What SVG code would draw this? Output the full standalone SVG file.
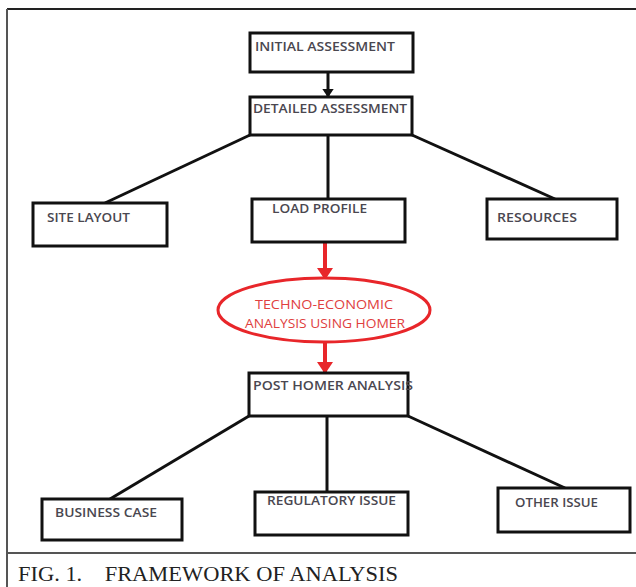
<svg xmlns="http://www.w3.org/2000/svg" width="636" height="587" viewBox="0 0 636 587">
<style>
.box{fill:#fff;stroke:#111;stroke-width:3}
.lbl{font-family:"Open Sans","Liberation Sans",sans-serif;font-weight:600;font-size:13px;fill:#4a4750}
.rl{font-family:"Open Sans","Liberation Sans",sans-serif;font-size:13.5px;fill:#e0403e}
.ln{stroke:#111;stroke-width:3;fill:none}
.rd{stroke:#e8262a;stroke-width:4;fill:none}
</style>
<defs>
<marker id="ab" markerWidth="4" markerHeight="4" refX="2.5" refY="2" orient="auto" markerUnits="strokeWidth"><path d="M0,0 L3,2 L0,4 Z" fill="#111"/></marker>
<marker id="ar" markerWidth="4" markerHeight="4" refX="2.5" refY="2" orient="auto" markerUnits="strokeWidth"><path d="M0,0 L3,2 L0,4 Z" fill="#e8262a"/></marker>
</defs>
<rect width="636" height="587" fill="#fff"/>
<g id="frame">
<line x1="7" y1="9" x2="636" y2="9" stroke="#222" stroke-width="2"/>
<line x1="7" y1="9" x2="7" y2="587" stroke="#555" stroke-width="2"/>
<line x1="7" y1="553" x2="636" y2="553" stroke="#555" stroke-width="2"/>
</g>
<g id="connectors">
<line class="ln" x1="328" y1="72" x2="328" y2="96" stroke-width="5" marker-end="url(#ab)"/>
<line class="ln" x1="250" y1="135" x2="105" y2="203"/>
<line class="ln" x1="328" y1="135" x2="328" y2="199"/>
<line class="ln" x1="412" y1="135" x2="555" y2="199"/>
<line class="rd" x1="325" y1="242" x2="325" y2="278" marker-end="url(#ar)"/>
<line class="rd" x1="325" y1="342" x2="325" y2="372" marker-end="url(#ar)"/>
<line class="ln" x1="249" y1="416" x2="110" y2="499"/>
<line class="ln" x1="327" y1="416" x2="327" y2="492"/>
<line class="ln" x1="408" y1="416" x2="565" y2="488"/>
</g>
<g id="initial"><rect class="box" x="250" y="33" width="163" height="39"/><text class="lbl" x="255" y="51" textLength="140" lengthAdjust="spacingAndGlyphs">INITIAL ASSESSMENT</text></g>
<g id="detailed"><rect class="box" x="250" y="97" width="162" height="38"/><text class="lbl" x="253" y="113" textLength="154" lengthAdjust="spacingAndGlyphs">DETAILED ASSESSMENT</text></g>
<g id="site"><rect class="box" x="33" y="203" width="134" height="43"/><text class="lbl" x="47" y="222" textLength="83" lengthAdjust="spacingAndGlyphs">SITE LAYOUT</text></g>
<g id="load"><rect class="box" x="252" y="199" width="153" height="43"/><text class="lbl" x="272" y="213" textLength="95" lengthAdjust="spacingAndGlyphs">LOAD PROFILE</text></g>
<g id="resources"><rect class="box" x="487" y="199" width="130" height="40"/><text class="lbl" x="497" y="222" textLength="80" lengthAdjust="spacingAndGlyphs">RESOURCES</text></g>
<g id="homer"><ellipse cx="324" cy="310" rx="106" ry="32" fill="#fff" stroke="#e8262a" stroke-width="3"/><text class="rl" x="255" y="309" textLength="138" lengthAdjust="spacingAndGlyphs">TECHNO-ECONOMIC</text><text class="rl" x="245" y="328" textLength="160" lengthAdjust="spacingAndGlyphs">ANALYSIS USING HOMER</text></g>
<g id="post"><rect class="box" x="249" y="373" width="159" height="43"/><text class="lbl" x="253" y="390" textLength="160" lengthAdjust="spacingAndGlyphs">POST HOMER ANALYSIS</text></g>
<g id="business"><rect class="box" x="42" y="499" width="140" height="41"/><text class="lbl" x="55" y="517" textLength="102" lengthAdjust="spacingAndGlyphs">BUSINESS CASE</text></g>
<g id="regulatory"><rect class="box" x="255" y="492" width="153" height="43"/><text class="lbl" x="267" y="505" textLength="129" lengthAdjust="spacingAndGlyphs">REGULATORY ISSUE</text></g>
<g id="other"><rect class="box" x="498" y="488" width="132" height="44"/><text class="lbl" x="515" y="507" textLength="83" lengthAdjust="spacingAndGlyphs">OTHER ISSUE</text></g>
<g id="caption"><text x="18" y="581" font-family="'Liberation Serif',serif" font-size="21" fill="#222" textLength="380" lengthAdjust="spacingAndGlyphs" xml:space="preserve">FIG. 1.    FRAMEWORK OF ANALYSIS</text></g>
</svg>
